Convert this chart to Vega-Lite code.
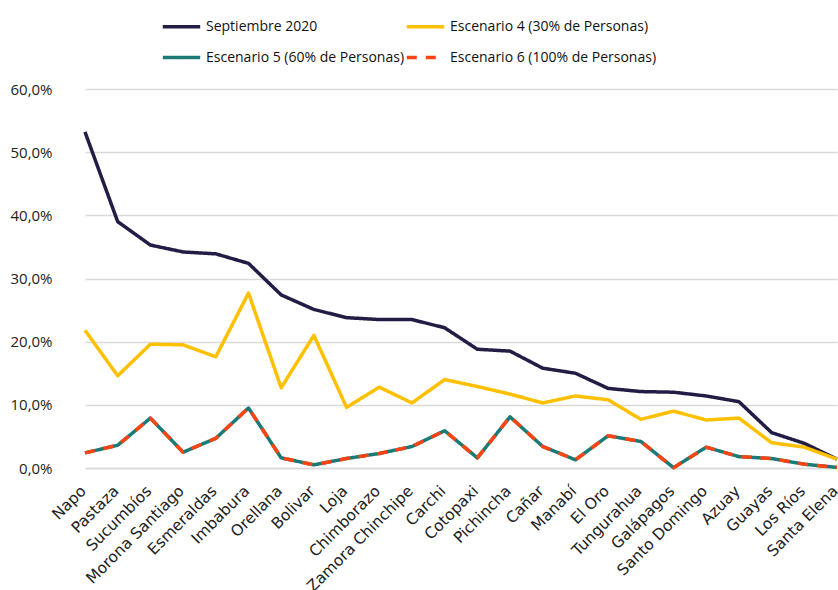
{
  "$schema": "https://vega.github.io/schema/vega-lite/v6.json",
  "width": 770,
  "height": 379,
  "autosize": {"type": "none"},
  "padding": {"left": 68, "top": 89, "right": 0, "bottom": 122},
  "background": "white",
  "data": {"values": [
    {"provincia": "Napo", "Septiembre 2020": 53.2, "Escenario 4 (30% de Personas)": 21.8, "Escenario 5 (60% de Personas)": 2.4, "Escenario 6 (100% de Personas)": 2.4},
    {"provincia": "Pastaza", "Septiembre 2020": 39.0, "Escenario 4 (30% de Personas)": 14.6, "Escenario 5 (60% de Personas)": 3.6, "Escenario 6 (100% de Personas)": 3.6},
    {"provincia": "Sucumbíos", "Septiembre 2020": 35.3, "Escenario 4 (30% de Personas)": 19.6, "Escenario 5 (60% de Personas)": 7.9, "Escenario 6 (100% de Personas)": 7.9},
    {"provincia": "Morona Santiago", "Septiembre 2020": 34.2, "Escenario 4 (30% de Personas)": 19.5, "Escenario 5 (60% de Personas)": 2.5, "Escenario 6 (100% de Personas)": 2.5},
    {"provincia": "Esmeraldas", "Septiembre 2020": 33.9, "Escenario 4 (30% de Personas)": 17.6, "Escenario 5 (60% de Personas)": 4.7, "Escenario 6 (100% de Personas)": 4.7},
    {"provincia": "Imbabura", "Septiembre 2020": 32.4, "Escenario 4 (30% de Personas)": 27.7, "Escenario 5 (60% de Personas)": 9.5, "Escenario 6 (100% de Personas)": 9.5},
    {"provincia": "Orellana", "Septiembre 2020": 27.4, "Escenario 4 (30% de Personas)": 12.7, "Escenario 5 (60% de Personas)": 1.6, "Escenario 6 (100% de Personas)": 1.6},
    {"provincia": "Bolivar", "Septiembre 2020": 25.1, "Escenario 4 (30% de Personas)": 21.0, "Escenario 5 (60% de Personas)": 0.5, "Escenario 6 (100% de Personas)": 0.5},
    {"provincia": "Loja", "Septiembre 2020": 23.8, "Escenario 4 (30% de Personas)": 9.6, "Escenario 5 (60% de Personas)": 1.5, "Escenario 6 (100% de Personas)": 1.5},
    {"provincia": "Chimborazo", "Septiembre 2020": 23.5, "Escenario 4 (30% de Personas)": 12.8, "Escenario 5 (60% de Personas)": 2.3, "Escenario 6 (100% de Personas)": 2.3},
    {"provincia": "Zamora Chinchipe", "Septiembre 2020": 23.5, "Escenario 4 (30% de Personas)": 10.3, "Escenario 5 (60% de Personas)": 3.4, "Escenario 6 (100% de Personas)": 3.4},
    {"provincia": "Carchi", "Septiembre 2020": 22.2, "Escenario 4 (30% de Personas)": 14.0, "Escenario 5 (60% de Personas)": 5.9, "Escenario 6 (100% de Personas)": 5.9},
    {"provincia": "Cotopaxi", "Septiembre 2020": 18.8, "Escenario 4 (30% de Personas)": 12.9, "Escenario 5 (60% de Personas)": 1.6, "Escenario 6 (100% de Personas)": 1.6},
    {"provincia": "Pichincha", "Septiembre 2020": 18.5, "Escenario 4 (30% de Personas)": 11.7, "Escenario 5 (60% de Personas)": 8.1, "Escenario 6 (100% de Personas)": 8.1},
    {"provincia": "Cañar", "Septiembre 2020": 15.8, "Escenario 4 (30% de Personas)": 10.3, "Escenario 5 (60% de Personas)": 3.4, "Escenario 6 (100% de Personas)": 3.4},
    {"provincia": "Manabí", "Septiembre 2020": 15.0, "Escenario 4 (30% de Personas)": 11.4, "Escenario 5 (60% de Personas)": 1.3, "Escenario 6 (100% de Personas)": 1.3},
    {"provincia": "El Oro", "Septiembre 2020": 12.6, "Escenario 4 (30% de Personas)": 10.8, "Escenario 5 (60% de Personas)": 5.1, "Escenario 6 (100% de Personas)": 5.1},
    {"provincia": "Tungurahua", "Septiembre 2020": 12.1, "Escenario 4 (30% de Personas)": 7.7, "Escenario 5 (60% de Personas)": 4.2, "Escenario 6 (100% de Personas)": 4.2},
    {"provincia": "Galápagos", "Septiembre 2020": 12.0, "Escenario 4 (30% de Personas)": 9.0, "Escenario 5 (60% de Personas)": 0.05, "Escenario 6 (100% de Personas)": 0.05},
    {"provincia": "Santo Domingo", "Septiembre 2020": 11.4, "Escenario 4 (30% de Personas)": 7.6, "Escenario 5 (60% de Personas)": 3.3, "Escenario 6 (100% de Personas)": 3.3},
    {"provincia": "Azuay", "Septiembre 2020": 10.5, "Escenario 4 (30% de Personas)": 7.9, "Escenario 5 (60% de Personas)": 1.8, "Escenario 6 (100% de Personas)": 1.8},
    {"provincia": "Guayas", "Septiembre 2020": 5.6, "Escenario 4 (30% de Personas)": 4.0, "Escenario 5 (60% de Personas)": 1.5, "Escenario 6 (100% de Personas)": 1.5},
    {"provincia": "Los Ríos", "Septiembre 2020": 3.9, "Escenario 4 (30% de Personas)": 3.3, "Escenario 5 (60% de Personas)": 0.6, "Escenario 6 (100% de Personas)": 0.6},
    {"provincia": "Santa Elena", "Septiembre 2020": 1.4, "Escenario 4 (30% de Personas)": 1.4, "Escenario 5 (60% de Personas)": 0.1, "Escenario 6 (100% de Personas)": 0.1}
  ]},
  "transform": [
    {"fold": ["Septiembre 2020", "Escenario 4 (30% de Personas)", "Escenario 5 (60% de Personas)", "Escenario 6 (100% de Personas)"], "as": ["serie", "valor"]}
  ],
  "encoding": {
    "x": {
      "field": "provincia", "type": "nominal", "sort": null,
      "scale": {"type": "point", "range": [17, 769], "padding": 0},
      "axis": {
        "title": null, "labelAngle": -45, "labelAlign": "right", "labelBaseline": "top",
        "labelFont": "DejaVu Sans", "labelFontSize": 15.5, "labelColor": "#222222",
        "ticks": false, "labelPadding": 15, "labelOffset": -7, "domainColor": "#d9d9d9", "domainWidth": 1.5, "grid": false,
        "labelOverlap": false
      }
    },
    "y": {
      "field": "valor", "type": "quantitative",
      "scale": {"domain": [0, 60], "nice": false},
      "axis": {
        "title": null, "values": [0, 10, 20, 30, 40, 50, 60],
        "labelExpr": "replace(format(datum.value, '.1f'), '.', ',') + '%'",
        "labelFont": "Open Sans", "labelFontSize": 15, "labelColor": "#222222",
        "labelPadding": 16, "ticks": false, "domain": false,
        "grid": true, "gridColor": "#d9d9d9", "gridWidth": 1.5
      }
    },
    "color": {
      "field": "serie", "type": "nominal",
      "scale": {
        "domain": ["Septiembre 2020", "Escenario 4 (30% de Personas)", "Escenario 5 (60% de Personas)", "Escenario 6 (100% de Personas)"],
        "range": ["#231c44", "#ffc000", "#1b7a76", "#ff4411"]
      },
      "legend": {
        "title": null, "orient": "none", "legendX": 93, "legendY": -83, "direction": "horizontal", "columns": 2,
        "symbolType": "stroke", "symbolSize": 1400, "symbolStrokeWidth": 3.5,
        "labelFont": "Open Sans", "labelFontSize": 14, "labelColor": "#111111", "labelLimit": 0,
        "rowPadding": 3, "columnPadding": -6, "labelOffset": 4
      }
    },
    "strokeDash": {
      "field": "serie", "type": "nominal",
      "scale": {
        "domain": ["Septiembre 2020", "Escenario 4 (30% de Personas)", "Escenario 5 (60% de Personas)", "Escenario 6 (100% de Personas)"],
        "range": [[1, 0], [1, 0], [1, 0], [10, 9]]
      },
      "legend": {
        "title": null, "orient": "none", "legendX": 93, "legendY": -83, "direction": "horizontal", "columns": 2,
        "symbolType": "stroke", "symbolSize": 1400, "symbolStrokeWidth": 3.5,
        "labelFont": "Open Sans", "labelFontSize": 14, "labelColor": "#111111", "labelLimit": 0,
        "rowPadding": 3, "columnPadding": -6, "labelOffset": 4
      }
    }
  },
  "layer": [
    {
      "transform": [{"filter": "datum.serie != 'Escenario 6 (100% de Personas)'"}],
      "mark": {"type": "line", "strokeWidth": 3.5, "strokeJoin": "round"}
    },
    {
      "transform": [{"filter": "datum.serie == 'Escenario 6 (100% de Personas)'"}],
      "mark": {"type": "line", "strokeWidth": 3.5, "strokeJoin": "round"}
    }
  ],
  "config": {"view": {"stroke": null}}
}
